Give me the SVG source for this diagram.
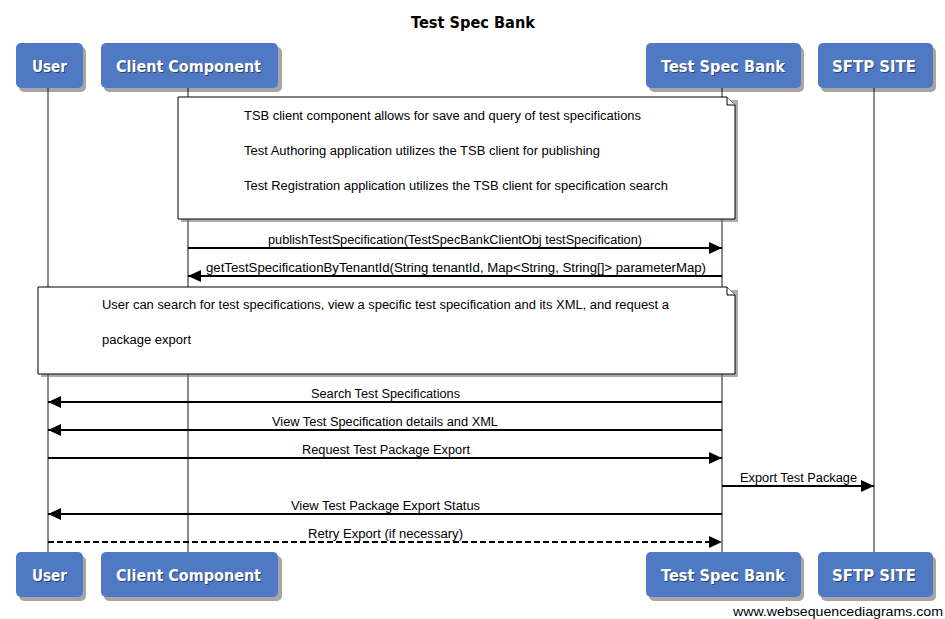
<svg xmlns="http://www.w3.org/2000/svg" width="945" height="619" viewBox="0 0 945 619">
<defs>
<style>
.box{fill:#5079c4;stroke:none}
.shadow{fill:#000;opacity:0.35}
.lbl{font-family:"DejaVu Sans",Verdana,sans-serif;font-size:16px;font-weight:bold;fill:#fff;text-anchor:middle}
.lblsh{font-family:"DejaVu Sans",Verdana,sans-serif;font-size:16px;font-weight:bold;fill:#000;opacity:0.45;text-anchor:middle}
.life{stroke:#8a8a8a;stroke-width:2;fill:none}
.msg{stroke:#000;stroke-width:2;fill:none}
.dash{stroke-dasharray:6,3}
.txt{font-family:"Liberation Sans",Arial,sans-serif;font-size:12px;fill:#000}
.mt{text-anchor:middle}
.note{fill:#fff;stroke:#000;stroke-width:1}
.nsh{fill:#777;opacity:0.6}
</style>
<marker id="ah" markerUnits="userSpaceOnUse" markerWidth="14" markerHeight="14" refX="13" refY="7" orient="auto">
<path d="M0,1 L13,7 L0,13 Z" fill="#000"/>
</marker>
</defs>

<text x="473" y="28" style="font-family:'DejaVu Sans',Verdana,sans-serif;font-size:15px;font-weight:bold;fill:#000" text-anchor="middle" textLength="124" lengthAdjust="spacingAndGlyphs">Test Spec Bank</text>

<g id="lifelines">
<line class="life" x1="48" y1="88" x2="48" y2="552"/>
<line class="life" x1="188" y1="88" x2="188" y2="552"/>
<line class="life" x1="722" y1="88" x2="722" y2="552"/>
<line class="life" x1="874" y1="88" x2="874" y2="552"/>
</g>

<g id="user-top">
<rect class="shadow" x="19" y="47" width="67" height="45" rx="5"/>
<rect class="box" x="16" y="43" width="67" height="45" rx="5"/>
<text class="lblsh" x="50.5" y="73" textLength="35" lengthAdjust="spacingAndGlyphs">User</text>
<text class="lbl" x="49.5" y="72" textLength="35" lengthAdjust="spacingAndGlyphs">User</text>
</g>
<g id="client-top">
<rect class="shadow" x="104" y="47" width="178" height="45" rx="5"/>
<rect class="box" x="101" y="43" width="177" height="45" rx="5"/>
<text class="lblsh" x="189.5" y="73" textLength="145" lengthAdjust="spacingAndGlyphs">Client Component</text>
<text class="lbl" x="188.5" y="72" textLength="145" lengthAdjust="spacingAndGlyphs">Client Component</text>
</g>
<g id="tsb-top">
<rect class="shadow" x="649" y="47" width="155" height="45" rx="5"/>
<rect class="box" x="646" y="43" width="155" height="45" rx="5"/>
<text class="lblsh" x="724" y="73" textLength="124" lengthAdjust="spacingAndGlyphs">Test Spec Bank</text>
<text class="lbl" x="723" y="72" textLength="124" lengthAdjust="spacingAndGlyphs">Test Spec Bank</text>
</g>
<g id="sftp-top">
<rect class="shadow" x="821" y="47" width="115" height="45" rx="5"/>
<rect class="box" x="818" y="43" width="115" height="45" rx="5"/>
<text class="lblsh" x="875" y="73" textLength="84" lengthAdjust="spacingAndGlyphs">SFTP SITE</text>
<text class="lbl" x="874" y="72" textLength="84" lengthAdjust="spacingAndGlyphs">SFTP SITE</text>
</g>

<g id="note1">
<path class="nsh" d="M181,100 L738,100 L738,222 L181,222 Z"/>
<path class="note" d="M178,97 L727,97 L735,105 L735,219 L178,219 Z"/>
<path class="note" d="M727,97 L727,105 L735,105"/>
<text class="txt" x="244" y="120" textLength="397" lengthAdjust="spacingAndGlyphs">TSB client component allows for save and query of test specifications</text>
<text class="txt" x="244" y="155" textLength="356" lengthAdjust="spacingAndGlyphs">Test Authoring application utilizes the TSB client for publishing</text>
<text class="txt" x="244" y="190" textLength="424" lengthAdjust="spacingAndGlyphs">Test Registration application utilizes the TSB client for specification search</text>
</g>

<g id="connectors">
<line class="msg" x1="188" y1="248" x2="722" y2="248" marker-end="url(#ah)"/>
<text class="txt mt" x="455" y="244" textLength="374" lengthAdjust="spacingAndGlyphs">publishTestSpecification(TestSpecBankClientObj testSpecification)</text>
<line class="msg" x1="722" y1="276" x2="188" y2="276" marker-end="url(#ah)"/>
<text class="txt mt" x="456" y="272" textLength="500" lengthAdjust="spacingAndGlyphs">getTestSpecificationByTenantId(String tenantId, Map&lt;String, String[]&gt; parameterMap)</text>

<line class="msg" x1="722" y1="402" x2="48" y2="402" marker-end="url(#ah)"/>
<text class="txt mt" x="385.5" y="398" textLength="149" lengthAdjust="spacingAndGlyphs">Search Test Specifications</text>
<line class="msg" x1="722" y1="430" x2="48" y2="430" marker-end="url(#ah)"/>
<text class="txt mt" x="385" y="426" textLength="226" lengthAdjust="spacingAndGlyphs">View Test Specification details and XML</text>
<line class="msg" x1="48" y1="458" x2="722" y2="458" marker-end="url(#ah)"/>
<text class="txt mt" x="386" y="454" textLength="168" lengthAdjust="spacingAndGlyphs">Request Test Package Export</text>
<line class="msg" x1="722" y1="486" x2="874" y2="486" marker-end="url(#ah)"/>
<text class="txt mt" x="798.5" y="482" textLength="117" lengthAdjust="spacingAndGlyphs">Export Test Package</text>
<line class="msg" x1="722" y1="514" x2="48" y2="514" marker-end="url(#ah)"/>
<text class="txt mt" x="385.5" y="510" textLength="189" lengthAdjust="spacingAndGlyphs">View Test Package Export Status</text>
<line class="msg dash" x1="48" y1="542" x2="722" y2="542" marker-end="url(#ah)"/>
<text class="txt mt" x="385.5" y="538" textLength="155" lengthAdjust="spacingAndGlyphs">Retry Export (if necessary)</text>
</g>

<g id="note2">
<path class="nsh" d="M41,290 L738,290 L738,377 L41,377 Z"/>
<path class="note" d="M38,287 L727,287 L735,295 L735,374 L38,374 Z"/>
<path class="note" d="M727,287 L727,295 L735,295"/>
<text class="txt" x="102" y="309" textLength="567" lengthAdjust="spacingAndGlyphs">User can search for test specifications, view a specific test specification and its XML, and request a</text>
<text class="txt" x="102" y="344" textLength="89" lengthAdjust="spacingAndGlyphs">package export</text>
</g>

<g id="user-bottom">
<rect class="shadow" x="19" y="556" width="67" height="45" rx="5"/>
<rect class="box" x="16" y="552" width="67" height="45" rx="5"/>
<text class="lblsh" x="50.5" y="582" textLength="35" lengthAdjust="spacingAndGlyphs">User</text>
<text class="lbl" x="49.5" y="581" textLength="35" lengthAdjust="spacingAndGlyphs">User</text>
</g>
<g id="client-bottom">
<rect class="shadow" x="104" y="556" width="178" height="45" rx="5"/>
<rect class="box" x="101" y="552" width="177" height="45" rx="5"/>
<text class="lblsh" x="189.5" y="582" textLength="145" lengthAdjust="spacingAndGlyphs">Client Component</text>
<text class="lbl" x="188.5" y="581" textLength="145" lengthAdjust="spacingAndGlyphs">Client Component</text>
</g>
<g id="tsb-bottom">
<rect class="shadow" x="649" y="556" width="155" height="45" rx="5"/>
<rect class="box" x="646" y="552" width="155" height="45" rx="5"/>
<text class="lblsh" x="724" y="582" textLength="124" lengthAdjust="spacingAndGlyphs">Test Spec Bank</text>
<text class="lbl" x="723" y="581" textLength="124" lengthAdjust="spacingAndGlyphs">Test Spec Bank</text>
</g>
<g id="sftp-bottom">
<rect class="shadow" x="821" y="556" width="115" height="45" rx="5"/>
<rect class="box" x="818" y="552" width="115" height="45" rx="5"/>
<text class="lblsh" x="875" y="582" textLength="84" lengthAdjust="spacingAndGlyphs">SFTP SITE</text>
<text class="lbl" x="874" y="581" textLength="84" lengthAdjust="spacingAndGlyphs">SFTP SITE</text>
</g>

<text x="943" y="616" style="font-family:'Liberation Sans',Arial,sans-serif;font-size:13px;fill:#000" text-anchor="end" textLength="210" lengthAdjust="spacingAndGlyphs">www.websequencediagrams.com</text>
</svg>
